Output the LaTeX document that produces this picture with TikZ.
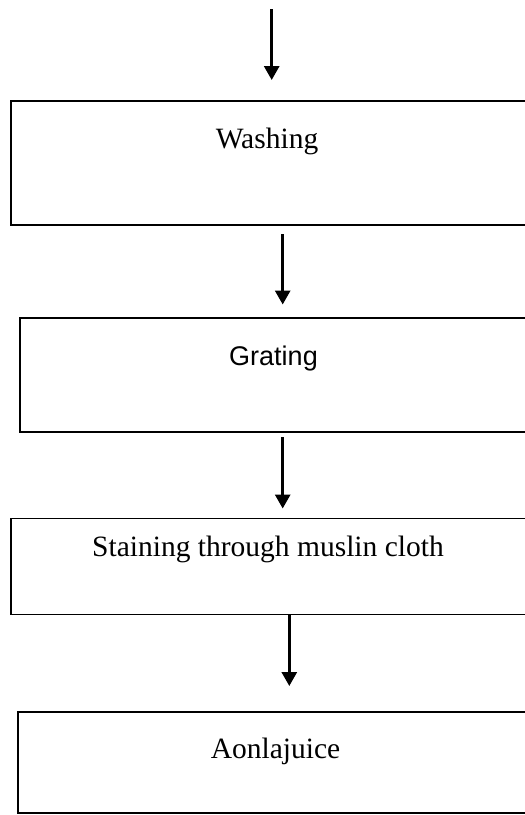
\documentclass[tikz,border=0pt]{standalone}
\usepackage{fontspec}
\setmainfont{Liberation Serif}
\newfontfamily\arialfont{Liberation Sans}
\usetikzlibrary{arrows.meta}
\begin{document}
\begin{tikzpicture}[x=1pt,y=-1pt,
  stepbox/.style={draw=black, line width=1.6pt, rectangle, inner sep=0pt, outer sep=0pt, anchor=north west},
  steptext/.style={anchor=base, inner sep=0pt, font=\fontsize{29.5}{34}\selectfont},
  flow/.style={line width=3pt, -{Triangle[width=15pt,length=14pt]}}]
  \useasboundingbox (0,0) rectangle (525,815);

  % process boxes (they run past the right edge of the page)
  \node[stepbox, minimum width=530, minimum height=124] (b1) at (11,101) {};
  \node[stepbox, minimum width=520, minimum height=114] (b2) at (20,318) {};
  \node[stepbox, minimum width=530, minimum height=96]  (b3) at (11,518.5) {};
  \node[stepbox, minimum width=520, minimum height=101] (b4) at (18,712) {};

  % step names
  \node[steptext] (t1) at (267,148) {Washing};
  \node[steptext, font=\arialfont\fontsize{27}{32}\selectfont] (t2) at (273.5,365.5) {Grating};
  \node[steptext] (t3) at (268,556.5) {Staining through muslin cloth};
  \node[steptext] (t4) at (275.5,758) {Aonlajuice};

  % arrow columns
  \coordinate (c1) at (271.7,9);
  \coordinate (c2) at (282.7,0);
  \coordinate (c3) at (282.7,0);
  \coordinate (c4) at (289.3,0);

  % connectors
  \draw[flow, shorten >=21] (c1) -- (b1.north -| c1);
  \draw[flow, shorten <=9, shorten >=13.5] (b1.south -| c2) -- (b2.north -| c2);
  \draw[flow, shorten <=5, shorten >=10] (b2.south -| c3) -- (b3.north -| c3);
  \draw[flow, shorten >=26] (b3.south -| c4) -- (b4.north -| c4);
\end{tikzpicture}
\end{document}
